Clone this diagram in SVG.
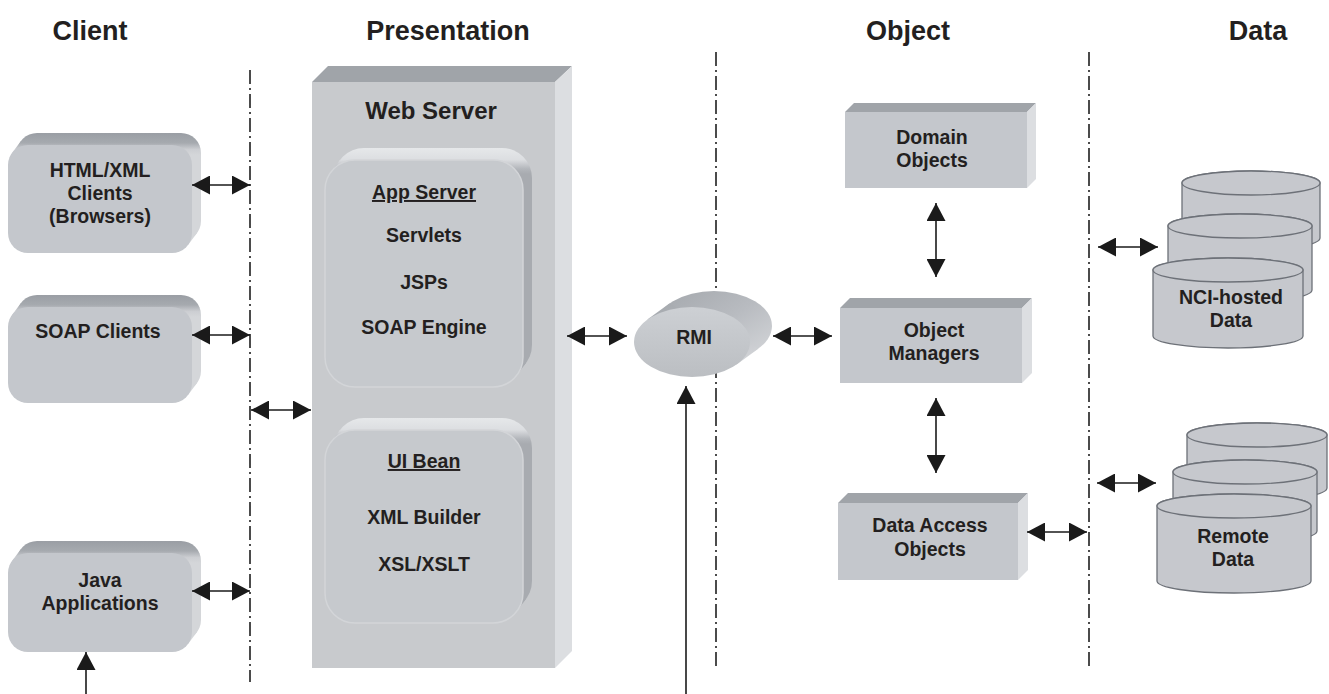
<svg xmlns="http://www.w3.org/2000/svg" width="1329" height="694" viewBox="0 0 1329 694">
<style>
.hdr{font-family:"Liberation Sans",Arial,sans-serif;font-weight:bold;font-size:27px;fill:#231f20;text-anchor:middle}
.lbl{font-family:"Liberation Sans",Arial,sans-serif;font-weight:bold;font-size:19.5px;fill:#231f20;text-anchor:middle}
.ws{font-family:"Liberation Sans",Arial,sans-serif;font-weight:bold;font-size:24px;fill:#231f20;text-anchor:middle}
.ul{text-decoration:underline}
.tier{fill:none;stroke:#111;stroke-width:1.5;stroke-dasharray:14 4 2 4}
.arr{fill:none;stroke:#1a1a1a;stroke-width:1.6;marker-start:url(#ah);marker-end:url(#ah)}
.arr1{fill:none;stroke:#1a1a1a;stroke-width:1.6;marker-end:url(#ah)}
.face{fill:#c4c7cc}
.cbev{fill:url(#gClient)}
.ibev{fill:url(#gInner)}
.iface{fill:#c6c9cd;stroke:#d3d5d8;stroke-width:1.5}
.btop{fill:#a0a4a9}
.bside{fill:#dcdee1}
.cyl{fill:#c6c8cd;stroke:#6d7178;stroke-width:1.3}
</style>
<defs>
<marker id="ah" viewBox="0 0 18 19" refX="18" refY="9.5" markerWidth="18" markerHeight="19" markerUnits="userSpaceOnUse" orient="auto-start-reverse">
<path d="M0,0 L18,9.5 L0,19 Z" fill="#1a1a1a"/>
</marker>
<linearGradient id="gClient" gradientUnits="userSpaceOnUse" x1="0" y1="-12" x2="0" y2="10">
<stop offset="0" stop-color="#9a9ea4"/>
<stop offset="0.45" stop-color="#a6aaaf"/>
<stop offset="0.75" stop-color="#ccced2"/>
<stop offset="1" stop-color="#d4d6d9"/>
</linearGradient>
<linearGradient id="gInner" gradientUnits="userSpaceOnUse" x1="0" y1="-12" x2="0" y2="14">
<stop offset="0" stop-color="#e6e8ea"/>
<stop offset="0.45" stop-color="#dcdee1"/>
<stop offset="0.8" stop-color="#b3b6bb"/>
<stop offset="1" stop-color="#a8abb0"/>
</linearGradient>
<linearGradient id="gRmiSide" x1="0" y1="0" x2="1" y2="1">
<stop offset="0" stop-color="#a3a7ac"/>
<stop offset="0.5" stop-color="#b8bbc0"/>
<stop offset="1" stop-color="#d6d8db"/>
</linearGradient>
<linearGradient id="gRmiFace" x1="0" y1="0" x2="0" y2="1">
<stop offset="0" stop-color="#cdd0d4"/>
<stop offset="1" stop-color="#bbbec2"/>
</linearGradient>
</defs>
<rect width="1329" height="694" fill="#ffffff"/>

<g id="headers">
<text class="hdr" x="90" y="40">Client</text>
<text class="hdr" x="448" y="40">Presentation</text>
<text class="hdr" x="908" y="40">Object</text>
<text class="hdr" x="1258" y="40">Data</text>
</g>

<g id="tier-lines">
<line class="tier" x1="250" y1="70" x2="250" y2="682"/>
<line class="tier" x1="716" y1="52" x2="716" y2="668"/>
<line class="tier" x1="1089" y1="52" x2="1089" y2="668"/>
</g>

<g id="html-clients" transform="translate(8,145)">
<rect class="cbev" x="9" y="-12" width="184" height="108" rx="20"/>
<polygon class="cbev" points="4,8 13,-4 189,88 180,100"/>
<rect class="face" x="0" y="0" width="184" height="108" rx="20"/>
<text class="lbl" x="92" y="32">HTML/XML</text>
<text class="lbl" x="92" y="55">Clients</text>
<text class="lbl" x="92" y="78">(Browsers)</text>
</g>

<g id="soap-clients" transform="translate(8,307)">
<rect class="cbev" x="9" y="-12" width="184" height="96" rx="20"/>
<polygon class="cbev" points="4,8 13,-4 189,76 180,88"/>
<rect class="face" x="0" y="0" width="184" height="96" rx="20"/>
<text class="lbl" x="90" y="31">SOAP Clients</text>
</g>

<g id="java-apps" transform="translate(8,553)">
<rect class="cbev" x="9" y="-12" width="184" height="99" rx="20"/>
<polygon class="cbev" points="4,8 13,-4 189,79 180,91"/>
<rect class="face" x="0" y="0" width="184" height="99" rx="20"/>
<text class="lbl" x="92" y="34">Java</text>
<text class="lbl" x="92" y="57">Applications</text>
</g>

<g id="web-server">
<polygon class="btop" points="312,82 328,66 572,66 555,82"/>
<polygon class="bside" points="555,82 572,66 572,651 555,668"/>
<rect x="312" y="82" width="243" height="586" fill="#c8cacd"/>
<text class="ws" x="431" y="119">Web Server</text>
</g>

<g id="app-server" transform="translate(325,160)">
<rect class="ibev" x="9" y="-12" width="198" height="227" rx="30"/>
<polygon class="ibev" points="6,12 15,0 201,203 192,215"/>
<rect class="iface" x="0" y="0" width="198" height="227" rx="30"/>
<text class="lbl ul" x="99" y="39">App Server</text>
<text class="lbl" x="99" y="82">Servlets</text>
<text class="lbl" x="99" y="129">JSPs</text>
<text class="lbl" x="99" y="174">SOAP Engine</text>
</g>

<g id="ui-bean" transform="translate(325,430)">
<rect class="ibev" x="9" y="-12" width="198" height="193" rx="30"/>
<polygon class="ibev" points="6,12 15,0 201,169 192,181"/>
<rect class="iface" x="0" y="0" width="198" height="193" rx="30"/>
<text class="lbl ul" x="99" y="38">UI Bean</text>
<text class="lbl" x="99" y="94">XML Builder</text>
<text class="lbl" x="99" y="141">XSL/XSLT</text>
</g>

<g id="rmi">
<ellipse cx="714" cy="326" rx="58" ry="35" fill="url(#gRmiSide)"/>
<polygon points="647.4,319.6 669.4,303.6 758.6,348.4 736.6,364.4" fill="url(#gRmiSide)"/>
<ellipse cx="692" cy="342" rx="58" ry="35" fill="url(#gRmiFace)"/>
<text class="lbl" x="694" y="344">RMI</text>
</g>

<g id="domain-objects">
<polygon class="btop" points="845,112 854,103 1036,103 1027,112"/>
<polygon class="bside" points="1027,112 1036,103 1036,179 1027,188"/>
<rect class="face" x="845" y="112" width="182" height="76"/>
<text class="lbl" x="932" y="144">Domain</text>
<text class="lbl" x="932" y="167">Objects</text>
</g>

<g id="object-managers">
<polygon class="btop" points="840,308 850,298 1032,298 1022,308"/>
<polygon class="bside" points="1022,308 1032,298 1032,373 1022,383"/>
<rect class="face" x="840" y="308" width="182" height="75"/>
<text class="lbl" x="934" y="337">Object</text>
<text class="lbl" x="934" y="360">Managers</text>
</g>

<g id="data-access-objects">
<polygon class="btop" points="838,503 848,493 1028,493 1018,503"/>
<polygon class="bside" points="1018,503 1028,493 1028,570 1018,580"/>
<rect class="face" x="838" y="503" width="180" height="77"/>
<text class="lbl" x="930" y="532">Data Access</text>
<text class="lbl" x="930" y="556">Objects</text>
</g>

<g id="nci-data">
<path class="cyl" d="M1182,183 L1182,238 A69,12 0 0 0 1320,238 L1320,183 A69,12 0 0 0 1182,183 Z"/>
<ellipse class="cyl" cx="1251" cy="183" rx="69" ry="12"/>
<path class="cyl" d="M1168,226 L1168,290 A72,12 0 0 0 1312,290 L1312,226 A72,12 0 0 0 1168,226 Z"/>
<ellipse class="cyl" cx="1240" cy="226" rx="72" ry="12"/>
<path class="cyl" d="M1153,270 L1153,336 A75,12 0 0 0 1303,336 L1303,270 A75,12 0 0 0 1153,270 Z"/>
<ellipse class="cyl" cx="1228" cy="270" rx="75" ry="12"/>
<text class="lbl" x="1231" y="304">NCI-hosted</text>
<text class="lbl" x="1231" y="327">Data</text>
</g>

<g id="remote-data">
<path class="cyl" d="M1187,435 L1187,488 A70,12 0 0 0 1327,488 L1327,435 A70,12 0 0 0 1187,435 Z"/>
<ellipse class="cyl" cx="1257" cy="435" rx="70" ry="12"/>
<path class="cyl" d="M1173,472 L1173,531 A72,12 0 0 0 1317,531 L1317,472 A72,12 0 0 0 1173,472 Z"/>
<ellipse class="cyl" cx="1245" cy="472" rx="72" ry="12"/>
<path class="cyl" d="M1157,506 L1157,581 A77,12 0 0 0 1311,581 L1311,506 A77,12 0 0 0 1157,506 Z"/>
<ellipse class="cyl" cx="1234" cy="506" rx="77" ry="12"/>
<text class="lbl" x="1233" y="543">Remote</text>
<text class="lbl" x="1233" y="566">Data</text>
</g>

<g id="connectors">
<line class="arr" x1="192" y1="185" x2="250" y2="185"/>
<line class="arr" x1="192" y1="335" x2="250" y2="335"/>
<line class="arr" x1="251" y1="410" x2="311" y2="410"/>
<line class="arr" x1="192" y1="591" x2="250" y2="591"/>
<line class="arr1" x1="86" y1="694" x2="86" y2="652"/>
<line class="arr" x1="567" y1="336" x2="627" y2="336"/>
<line class="arr1" x1="686" y1="694" x2="686" y2="386"/>
<line class="arr" x1="773" y1="336" x2="832" y2="336"/>
<line class="arr" x1="936" y1="203" x2="936" y2="277"/>
<line class="arr" x1="936" y1="398" x2="936" y2="473"/>
<line class="arr" x1="1027" y1="532" x2="1087" y2="532"/>
<line class="arr" x1="1098" y1="247" x2="1158" y2="247"/>
<line class="arr" x1="1097" y1="483" x2="1156" y2="483"/>
</g>
</svg>
